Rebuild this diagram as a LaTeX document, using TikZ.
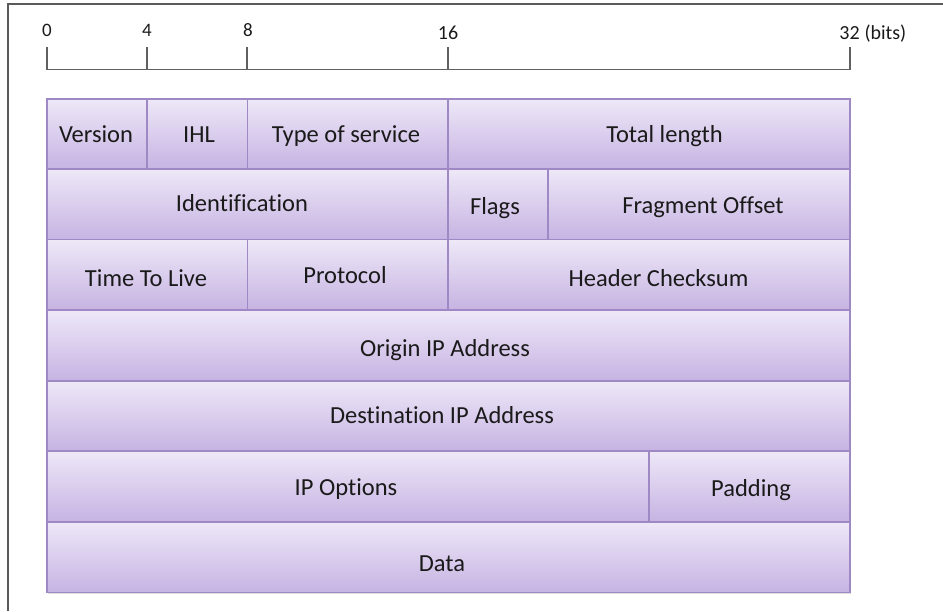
\documentclass[tikz,border=0pt]{standalone}
\usepackage{fontspec}
\setmainfont{Carlito}[Ligatures=CommonOff]
\usetikzlibrary{shadows}
\definecolor{boxtop}{HTML}{EEE8F8}
\definecolor{boxbot}{HTML}{C6B3E2}
\definecolor{boxborder}{HTML}{9E89C4}
\definecolor{axisgray}{HTML}{606060}
\definecolor{framegray}{HTML}{5A5A5A}
\definecolor{txt}{HTML}{1A1A1A}
\tikzset{
  fld/.style={draw=boxborder, line width=1.2pt, top color=boxtop, bottom color=boxbot,
    inner sep=0pt, outer sep=0pt, anchor=north west,
    drop shadow={shadow xshift=1.2pt, shadow yshift=-1.8pt, opacity=0.25}},
  lbl/.style={font=\fontsize{24.5}{28}\selectfont, text=txt, anchor=base, inner sep=0pt},
  smallnum/.style={font=\fontsize{19}{22}\selectfont, text=txt, anchor=base, inner sep=0pt},
  bignum/.style={font=\fontsize{20}{24}\selectfont, text=txt, anchor=base, inner sep=0pt},
  axisline/.style={draw=axisgray, line width=1.6pt},
  frameline/.style={draw=framegray, line width=1.8pt}
}
\newcommand\fieldbox[5]{%
  \node[fld, minimum width={(#4-#2)*1pt}, minimum height={(#5-#3)*1pt}] (#1) at (#2,#3) {};}
\begin{document}
\begin{tikzpicture}[x=1pt,y=-1pt]
\useasboundingbox (0,0) rectangle (943,611);
% frame
\coordinate (ftr) at (943,4);
\coordinate (ftl) at (8,4);
\coordinate (fbl) at (8,611);
\draw[frameline] (ftr) -- (ftl) -- (fbl);
% bit scale
\coordinate (t0) at (47,47);
\coordinate (t4) at (147,47);
\coordinate (t8) at (247,47);
\coordinate (t16) at (448,47);
\coordinate (t32) at (850,47);
\coordinate (b0) at (47,69.5);
\coordinate (b4) at (147,69.5);
\coordinate (b8) at (247,69.5);
\coordinate (b16) at (448,69.5);
\coordinate (b32) at (850,69.5);
\draw[axisline] (t0) -- (b0) -- (b32) -- (t32);
\draw[axisline] (t4) -- (b4);
\draw[axisline] (t8) -- (b8);
\draw[axisline] (t16) -- (b16);
\node[smallnum] (n0) at (47,36.5) {0};
\node[smallnum] (n4) at (147,36.5) {4};
\node[smallnum] (n8) at (248,36.5) {8};
\node[bignum] (n16) at (448,39) {16};
\node[bignum] (n32) at (849.5,39) {32};
\node[bignum, anchor=base west] (nbits) at (n32.base east) {\ (bits)};
% fields: row 1
\fieldbox{ver}{47}{99}{147}{169}
\fieldbox{ihl}{147}{99}{247.5}{169}
\fieldbox{tos}{247.5}{99}{448}{169}
\fieldbox{tlen}{448}{99}{850}{169}
% row 2
\fieldbox{ident}{47}{169}{448}{239.5}
\fieldbox{flags}{448}{169}{548}{239.5}
\fieldbox{frag}{548}{169}{850}{239.5}
% row 3
\fieldbox{ttl}{47}{239.5}{247.5}{310}
\fieldbox{proto}{247.5}{239.5}{448}{310}
\fieldbox{hcs}{448}{239.5}{850}{310}
% row 4-5
\fieldbox{src}{47}{310}{850}{381}
\fieldbox{dst}{47}{381}{850}{451}
% row 6
\fieldbox{opts}{47}{451}{649}{521.5}
\fieldbox{pad}{649}{451}{850}{521.5}
% row 7
\fieldbox{data}{47}{522}{850}{592.5}
% labels
\node[lbl] (lver) at (96,142) {Version};
\node[lbl] (lihl) at (199,142) {IHL};
\node[lbl] (ltos) at (346,142) {Type of service};
\node[lbl] (ltlen) at (664.5,142) {Total length};
\node[lbl] (lident) at (242,211) {Identification};
\node[lbl] (lflags) at (495,214) {Flags};
\node[lbl] (lfrag) at (703,213) {Fragment Offset};
\node[lbl] (lttl) at (146,286) {Time To Live};
\node[lbl] (lproto) at (345,283) {Protocol};
\node[lbl] (lhcs) at (658.5,286) {Header Checksum};
\node[lbl] (lsrc) at (445,356) {Origin IP Address};
\node[lbl] (ldst) at (442,423) {Destination IP Address};
\node[lbl] (lopts) at (346,495) {IP Options};
\node[lbl] (lpad) at (751,496) {Padding};
\node[lbl] (ldata) at (442,571) {Data};
\end{tikzpicture}
\end{document}
